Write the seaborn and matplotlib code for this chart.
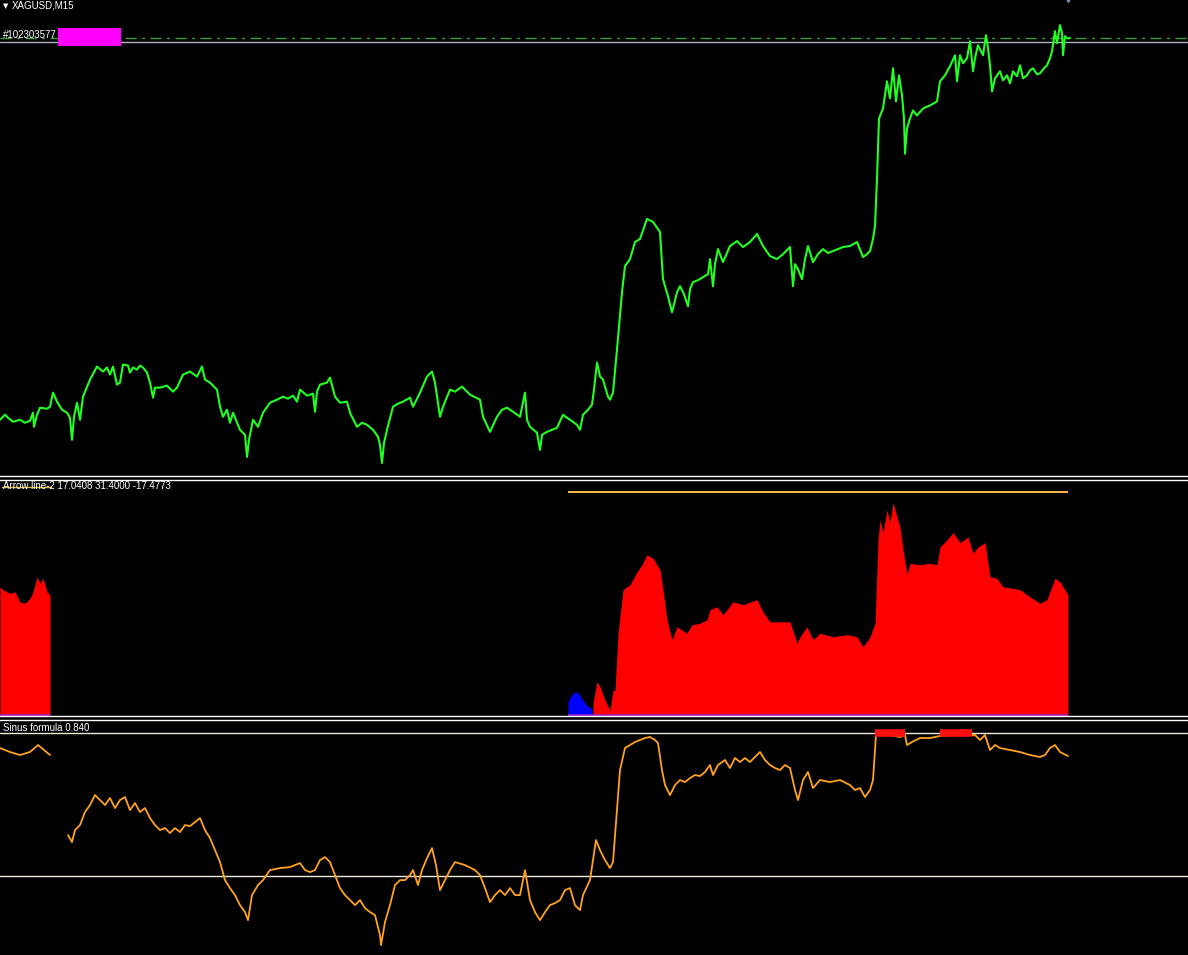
import matplotlib
matplotlib.use("Agg")
import matplotlib.pyplot as plt
from matplotlib.patches import Rectangle
import seaborn as sns

# --- data (x = bar number) ---
price_bars = [0, 5, 8, 13, 20, 25, 30, 33, 34, 37, 40, 47, 50, 53, 57, 62, 67, 70, 72, 74, 77, 80, 83, 90, 97,
              103, 107, 110, 113, 117, 120, 123, 128, 130, 133, 137, 140, 143, 147, 150, 153, 155, 160, 167, 173,
              177, 183, 190, 197, 202, 205, 210, 217, 220, 223, 227, 230, 233, 240, 245, 247, 249, 253, 258, 263,
              270, 277, 283, 288, 293, 297, 300, 307, 313, 315, 317, 320, 327, 330, 335, 340, 347, 350, 357, 362,
              367, 373, 378, 380, 382, 384, 387, 393, 398, 403, 410, 413, 420, 427, 432, 435, 440, 443, 450, 455,
              462, 470, 480, 483, 490, 497, 502, 507, 513, 520, 525, 527, 530, 537, 540, 542, 547, 552, 557, 563,
              567, 570, 577, 580, 583, 588, 592, 594, 597, 600, 603, 608, 610, 613, 617, 622, 625, 630, 635, 640,
              647, 653, 660, 663, 668, 672, 677, 680, 684, 688, 690, 693, 698, 703, 708, 710, 713, 715, 718, 723,
              730, 737, 743, 750, 757, 763, 770, 777, 783, 790, 793, 795, 798, 802, 805, 808, 813, 818, 823, 828,
              833, 838, 843, 850, 857, 863, 867, 870, 873, 875, 877, 879, 883, 887, 890, 893, 896, 899, 902, 904,
              905, 907, 910, 913, 917, 923, 930, 937, 940, 945, 950, 955, 957, 960, 963, 967, 970, 973, 975, 978,
              983, 986, 988, 990, 992, 995, 1000, 1003, 1007, 1010, 1013, 1017, 1020, 1023, 1027, 1030, 1033,
              1037, 1040, 1044, 1047, 1050, 1052, 1055, 1057, 1060, 1062, 1063, 1065, 1067, 1070]
price_vals = [60, 65, 62, 58, 60, 57, 59, 67, 53, 65, 72, 71, 73, 87, 78, 70, 67, 62, 40, 63, 77, 60, 83, 100, 113,
              108, 112, 105, 113, 95, 97, 115, 114, 107, 112, 110, 114, 112, 107, 97, 82, 92, 92, 94, 88,
              92, 105, 108, 103, 113, 100, 97, 90, 73, 63, 70, 57, 67, 50, 45, 23, 40, 60, 53, 67,
              77, 80, 83, 81, 84, 78, 90, 84, 86, 68, 88, 95, 97, 102, 83, 77, 78, 67, 53, 57,
              55, 50, 43, 35, 17, 37, 50, 73, 76, 78, 82, 73, 87, 103, 108, 97, 63, 73, 90, 88,
              93, 85, 80, 63, 48, 63, 70, 72, 68, 63, 87, 60, 53, 47, 30, 45, 48, 50, 52, 65,
              62, 60, 55, 50, 65, 70, 75, 90, 117, 103, 100, 83, 80, 87, 130, 187, 213, 220, 237, 240,
              260, 257, 247, 200, 183, 167, 187, 193, 185, 173, 190, 197, 199, 202, 205, 220, 193, 215, 230, 217,
              233, 238, 232, 237, 245, 233, 223, 220, 225, 232, 193, 215, 210, 200, 220, 233, 217, 225, 230, 226,
              228, 230, 232, 233, 237, 222, 225, 228, 240, 253, 300, 360, 370, 397, 380, 410, 377, 403, 383, 360,
              325, 350, 360, 368, 363, 370, 373, 377, 397, 403, 412, 423, 397, 423, 415, 420, 437, 407, 420, 433,
              423, 443, 430, 413, 387, 400, 407, 398, 403, 395, 407, 402, 413, 400, 403, 408, 410,
              404, 405, 410, 413, 420, 427, 447, 435, 453, 445, 423, 442, 440, 440]
bid_level = 440
ask_level = 436
arrow_marker_bar = 1068

hist_left_bars = [0, 3, 10, 15, 20, 25, 30, 33, 37, 40, 43, 47, 50]
hist_left_vals = [18.1, 17.7, 17.2, 17.4, 16.0, 15.8, 16.5, 17.4, 19.5, 18.6, 19.3, 17.4, 17.0]
hist_blue_bars = [568, 570, 573, 577, 580, 583, 588, 592]
hist_blue_vals = [2.0, 2.6, 3.2, 3.4, 2.9, 2.2, 1.3, 1.1]
hist_red_bars = [593, 597, 600, 605, 610, 613, 615, 618, 623, 630, 637, 642, 647, 653, 660, 663, 667, 672, 677,
                 687, 692, 700, 707, 710, 717, 723, 733, 743, 757, 763, 770, 780, 790, 797, 800, 807, 813, 820,
                 833, 847, 857, 863, 870, 875, 878, 880, 883, 887, 890, 893, 897, 900, 903, 907, 910, 920, 930,
                 937, 940, 947, 953, 960, 968, 973, 978, 985, 990, 997, 1003, 1013, 1020, 1030, 1040, 1047,
                 1055, 1060, 1067, 1068]
hist_red_vals = [1.8, 4.8, 4.1, 2.2, 0.8, 3.6, 3.6, 11.6, 17.7, 18.4, 20.2, 21.2, 22.6, 22.1, 20.5, 17.7, 13.5,
                 10.7, 12.5, 11.6, 12.8, 13.0, 13.5, 14.9, 15.3, 14.2, 16.0, 15.6, 16.3, 14.6, 13.2, 13.2, 13.2,
                 10.2, 11.1, 12.5, 10.7, 11.6, 11.1, 11.4, 11.1, 9.7, 11.1, 13.0, 24.7, 27.5, 25.7, 28.9, 27.1,
                 29.9, 27.9, 26.5, 23.3, 19.8, 21.4, 21.2, 21.4, 21.2, 23.7, 24.7, 25.7, 24.3, 25.1, 22.8, 23.7,
                 24.3, 19.5, 19.3, 18.1, 17.9, 17.7, 16.7, 15.8, 16.3, 19.3, 18.8, 17.2, 17.0408]
arrow_level = 31.4
arrow_level_start = 568
arrow_level_end = 1068
arrow_low = -17.4773

sin_left_bars = [0, 10, 20, 30, 38, 44, 50]
sin_left_vals = [0.896, 0.868, 0.847, 0.868, 0.917, 0.882, 0.847]
sin_bars = [68, 72, 75, 80, 85, 90, 95, 100, 105, 110, 115, 120, 125, 130, 135, 140, 145, 150, 155, 160, 165,
            170, 175, 180, 185, 190, 195, 200, 205, 210, 215, 220, 225, 230, 235, 240, 245, 248, 252, 258, 263,
            270, 280, 290, 300, 305, 310, 315, 320, 325, 330, 335, 340, 345, 350, 355, 360, 365, 370, 375, 380,
            381, 385, 390, 395, 400, 405, 410, 413, 418, 422, 427, 432, 436, 440, 445, 450, 455, 465, 475, 480,
            485, 490, 495, 500, 505, 510, 515, 520, 525, 530, 535, 540, 545, 550, 555, 560, 565, 570, 575, 580,
            583, 590, 596, 600, 605, 610, 613, 617, 620, 625, 630, 635, 640, 645, 650, 655, 658, 662, 665, 670,
            675, 680, 685, 690, 695, 700, 705, 710, 713, 718, 725, 730, 735, 740, 745, 750, 755, 760, 765, 770,
            775, 780, 785, 790, 795, 798, 803, 808, 813, 820, 830, 840, 850, 855, 860, 865, 870, 873, 876, 880,
            890, 900, 905, 907, 912, 920, 930, 940, 950, 960, 970, 975, 980, 985, 990, 995, 1000, 1010, 1020,
            1030, 1040, 1045, 1050, 1055, 1060, 1068]
sin_vals = [0.287, 0.238, 0.322, 0.357, 0.448, 0.497, 0.567, 0.532, 0.497, 0.546, 0.476, 0.532, 0.553, 0.462,
            0.511, 0.448, 0.476, 0.406, 0.357, 0.322, 0.336, 0.301, 0.336, 0.308, 0.357, 0.350, 0.378, 0.406,
            0.322, 0.266, 0.182, 0.098, -0.028, -0.084, -0.133, -0.203, -0.252, -0.308, -0.133, -0.063, -0.028,
            0.042, 0.056, 0.063, 0.091, 0.042, 0.028, 0.042, 0.112, 0.133, 0.098, 0.007, -0.084, -0.133, -0.168,
            -0.203, -0.168, -0.224, -0.252, -0.273, -0.413, -0.483, -0.322, -0.203, -0.063, -0.028, -0.028,
            0.007, 0.042, -0.063, 0.042, 0.126, 0.196, 0.077, -0.098, -0.028, 0.042, 0.098, 0.077, 0.042, 0.007,
            -0.084, -0.182, -0.133, -0.098, -0.133, -0.084, -0.133, -0.133, 0.042, -0.168, -0.252, -0.308,
            -0.252, -0.203, -0.189, -0.168, -0.098, -0.084, -0.203, -0.238, -0.133, -0.028, 0.252, 0.182, 0.112,
            0.056, 0.098, 0.462, 0.742, 0.896, 0.917, 0.938, 0.952, 0.966, 0.973, 0.952, 0.931, 0.742, 0.637,
            0.567, 0.637, 0.672, 0.658, 0.686, 0.707, 0.700, 0.728, 0.777, 0.707, 0.777, 0.812, 0.756, 0.826,
            0.798, 0.826, 0.798, 0.833, 0.868, 0.812, 0.777, 0.756, 0.742, 0.777, 0.756, 0.602, 0.532, 0.672,
            0.728, 0.616, 0.672, 0.658, 0.672, 0.637, 0.602, 0.616, 0.553, 0.602, 0.672, 0.987, 1.001, 0.987,
            0.973, 0.987, 0.917, 0.938, 0.966, 0.966, 0.980, 0.987, 0.987, 0.987, 0.987, 0.952, 0.987, 0.882,
            0.917, 0.896, 0.882, 0.868, 0.847, 0.833, 0.847, 0.896, 0.917, 0.868, 0.840]
sin_levels = [1.0, 0.0]
signal_starts = [875, 940]
signal_ends = [905, 972]

W, H = 1188, 955

sns.set_theme(style="dark")
plt.rcParams['font.family'] = ['Liberation Sans', 'DejaVu Sans']

fig = plt.figure(figsize=(W / 100, H / 100), dpi=100, facecolor="black")


def panel(top_px, bottom_px):
    ax = fig.add_axes([0, 1 - bottom_px / H, 1, (bottom_px - top_px) / H])
    ax.set_facecolor("black")
    ax.set_xlim(0, W)
    ax.set_xticks([])
    ax.set_yticks([])
    ax.grid(False)
    for s in ["left", "right"]:
        ax.spines[s].set_visible(False)
    for s in ["top", "bottom"]:
        ax.spines[s].set_color("white")
        ax.spines[s].set_linewidth(1)
    return ax


ax1 = panel(-2, 476)
ax2 = panel(480, 716)
ax3 = panel(720, 957)
ax1.spines["top"].set_visible(False)
ax3.spines["bottom"].set_visible(False)

# price window
ax1.set_ylim(4, 480)
ax1.axhline(ask_level, color="#aab2c4", lw=1)
ax1.axhline(bid_level, color="#3c9c3c", lw=1, linestyle=(0, (8, 4, 2, 4)))
sns.lineplot(x=price_bars, y=price_vals, ax=ax1, color="#22ff22", lw=1.5, estimator=None)
ax1.plot([arrow_marker_bar], [481.5], marker="v", color="#7f94b8", ms=9, clip_on=True)
ax1.set_xlabel("")
ax1.set_ylabel("")

# Arrow line-2 window
ax2.set_ylim(0, 33.08)
ax2.fill_between(hist_left_bars, 0, hist_left_vals, color="#ff0000", lw=0)
ax2.fill_between(hist_blue_bars, 0, hist_blue_vals, color="#0000ff", lw=0)
ax2.fill_between(hist_red_bars, 0, hist_red_vals, color="#ff0000", lw=0)
ax2.hlines([0.1, 0.1], [hist_left_bars[0], hist_blue_bars[0]], [hist_left_bars[-1], hist_red_bars[-1]],
           color="#9a20c8", lw=1.2)
ax2.hlines(arrow_level, arrow_level_start, arrow_level_end, color="#f0b840", lw=1.5)
ax2.axhline(32.1, xmin=2 / W, xmax=51 / W, color="#e0b030", lw=1)

# Sinus formula window
ax3.set_ylim(-0.566, 1.092)
for lv in sin_levels:
    ax3.axhline(lv, color="#f0eadc", lw=1)
sns.lineplot(x=sin_left_bars, y=sin_left_vals, ax=ax3, color="#ffa21e", lw=1.3, estimator=None)
sns.lineplot(x=sin_bars, y=sin_vals, ax=ax3, color="#ffa21e", lw=1.3, estimator=None)
ax3.hlines([1.0] * len(signal_starts), signal_starts, signal_ends, color="#ff1010", lw=5.5)
ax3.set_xlabel("")
ax3.set_ylabel("")


def fx(px):
    return px / W


def fy(py):
    return 1 - py / H


fig.text(fx(3), fy(6), "▼", color="white", fontsize=5, va="center", family=["DejaVu Sans"])
fig.text(fx(12), fy(6), "XAGUSD,M15", color="white", fontsize=7, va="center")
fig.text(fx(3), fy(35), "#102303577", color="white", fontsize=7, va="center")
fig.add_artist(Rectangle((fx(58), fy(46)), fx(63), 18 / H, transform=fig.transFigure,
                         color="#ff00ff", lw=0))
fig.text(fx(3), fy(486),
         f"Arrow line-2 {hist_red_vals[-1]:.4f} {arrow_level:.4f} {arrow_low:.4f}",
         color="white", fontsize=7, va="center")
fig.text(fx(3), fy(728), f"Sinus formula {sin_vals[-1]:.3f}", color="white", fontsize=7, va="center")

fig.savefig("out.png", dpi=100, facecolor="black")
